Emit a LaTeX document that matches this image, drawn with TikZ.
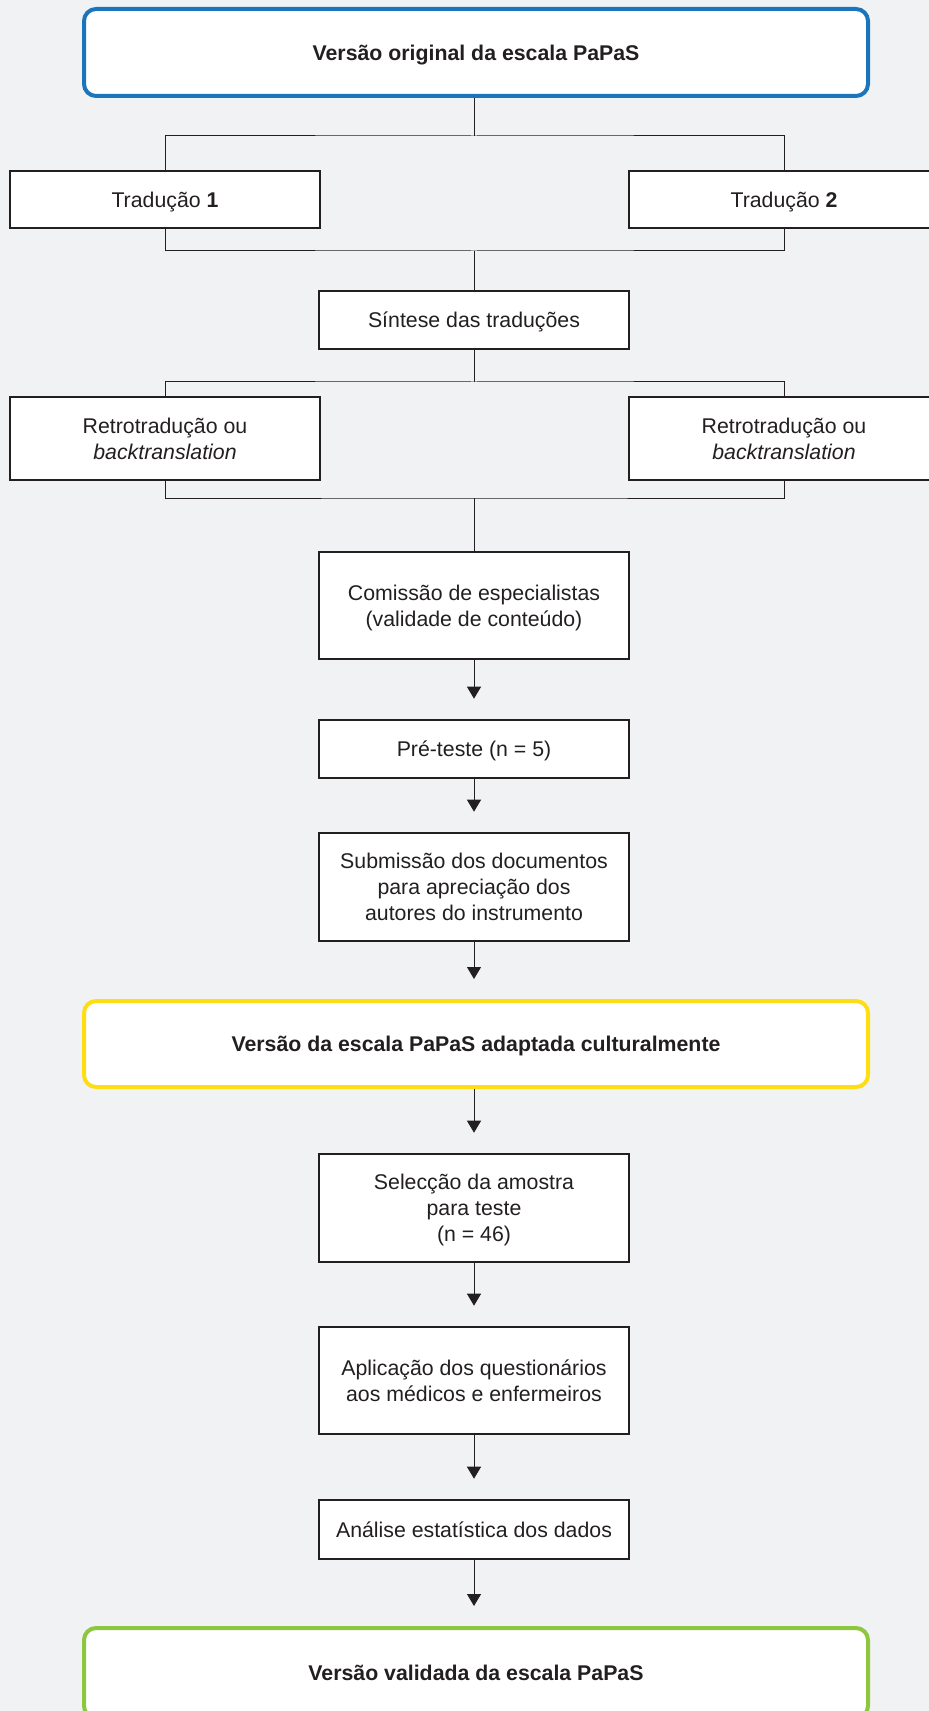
\documentclass[tikz,border=0pt]{standalone}
\usepackage{fontspec}
\setmainfont{Liberation Sans}
\usepackage{tikz}
\usetikzlibrary{arrows.meta,positioning}

\definecolor{bgcol}{HTML}{F1F2F4}
\definecolor{inkcol}{HTML}{231F20}
\definecolor{bluecol}{HTML}{1B75BC}
\definecolor{yellowcol}{HTML}{FFDD15}
\definecolor{greencol}{HTML}{8DC63F}

\begin{document}
\begin{tikzpicture}[x=0.5pt,y=-0.5pt,
  every node/.style={font=\fontsize{10.65pt}{13pt}\selectfont,text=inkcol,align=center,text depth=-1.5pt},
  stepbox/.style={draw=inkcol,line width=1.3pt,fill=white,minimum width=155pt,inner sep=0pt},
  versionbox/.style={line width=2pt,fill=white,rounded corners=6pt,minimum width=392pt,minimum height=43pt,font=\fontsize{10.65pt}{13pt}\selectfont\bfseries},
  link/.style={draw=inkcol,line width=0.5pt},
  flow/.style={link,-{Triangle[length=6pt,width=7pt]},shorten >=10pt}]
\fill[bgcol] (0,0) rectangle (929,1711);
\useasboundingbox (0,0) rectangle (929,1711);

\path (476,52.5)   node[versionbox,draw=bluecol,minimum height=43.5pt] (V1) {Versão original da escala PaPaS};
\path (165,199.5)  node[stepbox,minimum height=28.5pt] (T1) {Tradução \textbf{1}};
\path (784,199.5)  node[stepbox,minimum height=28.5pt] (T2) {Tradução \textbf{2}};
\path (474,320)    node[stepbox,minimum height=29pt] (S1) {Síntese das traduções};
\path (165,438.5)  node[stepbox,minimum height=41.5pt] (R1) {Retrotradução ou\\\textit{backtranslation}};
\path (784,438.5)  node[stepbox,minimum height=41.5pt] (R2) {Retrotradução ou\\\textit{backtranslation}};
\path (474,605.5)  node[stepbox,minimum height=53.5pt] (S2) {Comissão de especialistas\\(validade de conteúdo)};
\path (474,749)    node[stepbox,minimum height=29pt] (S3) {Pré-teste (n = 5)};
\path (474,887)    node[stepbox,minimum height=54pt] (S4) {Submissão dos documentos\\para apreciação dos\\autores do instrumento};
\path (476,1044)   node[versionbox,draw=yellowcol] (V2) {Versão da escala PaPaS adaptada culturalmente};
\path (474,1208)   node[stepbox,minimum height=54pt] (S5) {Selecção da amostra\\para teste\\(n = 46)};
\path (474,1380.5) node[stepbox,minimum height=53.5pt] (S6) {Aplicação dos questionários\\aos médicos e enfermeiros};
\path (474,1529.5) node[stepbox,minimum height=29.5pt] (S7) {Análise estatística dos dados};
\path (476,1673)   node[versionbox,draw=greencol,minimum height=45pt] (V3) {Versão validada da escala PaPaS};

\coordinate (J1) at (474,136);
\coordinate (J2) at (474,251);
\coordinate (J3) at (474,382);
\coordinate (J4) at (474,498);

\draw[link] (V1.south -| J1) to (J1);
\draw[link] (T1.north) |- (J1) -| (T2.north);
\draw[link] (T1.south) |- (J2) -| (T2.south);
\draw[link] (J2) to (S1);
\draw[link] (S1) to (J3);
\draw[link] (R1.north) |- (J3) -| (R2.north);
\draw[link] (R1.south) |- (J4) -| (R2.south);
\draw[link] (J4) to (S2);

\draw[flow] (S2) to (S3);
\draw[flow] (S3) to (S4);
\draw[flow] (S4) to (V2.north -| S4);
\draw[flow] (V2.south -| S5) to (S5);
\draw[flow] (S5) to (S6);
\draw[flow] (S6) to (S7);
\draw[flow] (S7) to (V3.north -| S7);
\end{tikzpicture}
\end{document}
